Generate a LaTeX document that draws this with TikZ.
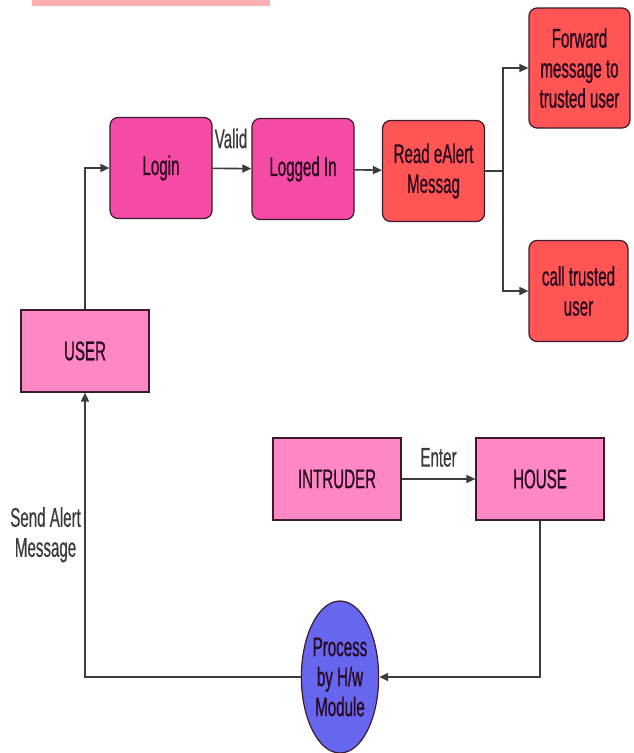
\documentclass[tikz,border=0pt]{standalone}
\usepackage{fontspec}
\setmainfont[FakeStretch=0.56,FakeBold=0.6]{Liberation Sans}
\usetikzlibrary{arrows.meta}
\usetikzlibrary{shapes.geometric}

\definecolor{hotpink}{RGB}{245,75,165}
\definecolor{alertred}{RGB}{255,85,85}
\definecolor{softpink}{RGB}{255,136,196}
\definecolor{modblue}{RGB}{102,102,238}
\definecolor{boxedge}{RGB}{60,25,45}
\definecolor{textdark}{RGB}{40,8,30}
\definecolor{linegray}{RGB}{60,60,60}
\definecolor{smudge}{RGB}{255,175,175}

\begin{document}
\begin{tikzpicture}[x=1pt,y=-1pt,
		every node/.style={font=\fontsize{27}{30}\selectfont,align=center,text=textdark},
		roundbox/.style={draw=boxedge,line width=1.2pt,rounded corners=8pt,minimum width=102pt,minimum height=101pt},
		pinkbox/.style={roundbox,fill=hotpink},
		redbox/.style={roundbox,fill=alertred},
		plainbox/.style={draw=boxedge,line width=1.2pt,fill=softpink,minimum width=128pt,minimum height=82pt},
		hwmodule/.style={ellipse,draw=boxedge,line width=1.2pt,fill=modblue,minimum width=77pt,minimum height=152pt,inner sep=0pt},
		label/.style={text=linegray},
		wire/.style={draw=linegray,line width=1.6pt},
		link/.style={wire,-{Triangle[length=9pt,width=8pt]}}
		]
		\useasboundingbox (0,0) rectangle (633,753);
		\fill[smudge] (32,0) rectangle (270,6);

		\node[pinkbox] (login) at (161,168) {Login};
		\node[pinkbox] (logged) at (303,169) {Logged In};
		\node[redbox] (read) at (433.5,171) {Read eAlert\\Messag};
		\node[redbox,minimum width=101pt,minimum height=120pt] (fwd) at (579.5,68) {Forward\\message to\\trusted user};
		\node[redbox,minimum width=99pt] (call) at (578.5,291) {call trusted\\user};

		\node[plainbox] (user) at (85,351) {USER};
		\node[plainbox] (intruder) at (337,479) {INTRUDER};
		\node[plainbox] (house) at (540,479) {HOUSE};
		\node[hwmodule] (hw) at (340,677) {Process\\by H/w\\Module};

		\coordinate (split) at (503,171);

		\draw[link] (user.north) |- (login.west);
		\draw[link] (login) -- node[label,above=16pt,xshift=-1pt] {Valid} (logged);
		\draw[link] (logged) -- (read);
		\draw[wire] (read.east) -- (split);
		\draw[link] (split) |- (fwd.west);
		\draw[link] (split) |- (call.west);
		\draw[link] (intruder) -- node[label,above=8pt] {Enter} (house);
		\draw[link] (house.south) |- (hw.east);
		\draw[link] (hw.west) -| node[label,pos=0.75,left=0pt] {Send Alert\\Message} (user.south);
	\end{tikzpicture}
\end{document}
